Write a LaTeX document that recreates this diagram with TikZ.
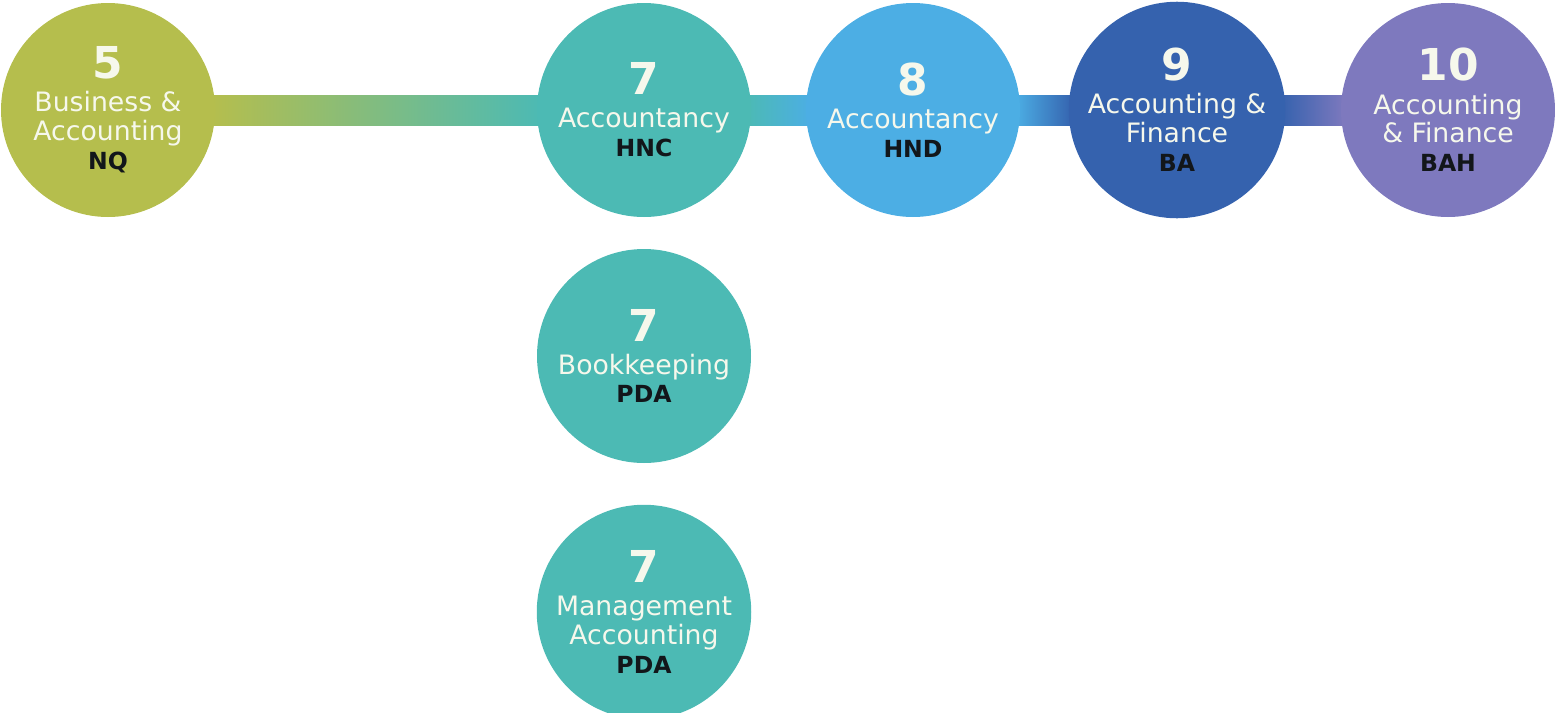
\documentclass[tikz,border=0pt]{standalone}
\usepackage{fontspec}
\setmainfont{DejaVu Sans}
\usetikzlibrary{calc,backgrounds}

\definecolor{lvolive}{RGB}{181,190,77}
\definecolor{lvteal}{RGB}{76,186,180}
\definecolor{lvsky}{RGB}{76,174,228}
\definecolor{lvnavy}{RGB}{53,98,174}
\definecolor{lvlilac}{RGB}{126,121,190}
\definecolor{lvink}{RGB}{18,22,26}
\definecolor{lvpaper}{RGB}{246,248,236}

\newcommand{\lvnum}[1]{{\fontsize{12.5}{8.2}\selectfont\bfseries #1}}
\newcommand{\lvcode}[1]{{\fontsize{6.7}{8.2}\selectfont\bfseries\color{lvink}#1}}

\begin{document}
\begin{tikzpicture}[
  every node/.style={font=\fontsize{7.6}{8.2}\selectfont},
  lvl/.style={circle,minimum size=21.4mm,inner sep=0pt,text=lvpaper,align=center},
  bar/.style={draw=none}]

\useasboundingbox (0,0) rectangle (15.55,7.12);

% ---- main route ----
\node[lvl,fill=lvolive] (nq)  at (1.08,6.02)  {\lvnum{5}\\[1.2pt]Business \&\\Accounting\\\lvcode{NQ}};
\node[lvl,fill=lvteal]  (hnc) at (6.44,6.02)  {\lvnum{7}\\[1.2pt]Accountancy\\\lvcode{HNC}};
\node[lvl,fill=lvsky]   (hnd) at (9.13,6.02)  {\lvnum{8}\\[1.2pt]Accountancy\\\lvcode{HND}};
\node[lvl,fill=lvnavy]  (ba)  at (11.77,6.02) {\lvnum{9}\\[1.2pt]Accounting \&\\Finance\\\lvcode{BA}};
\node[lvl,fill=lvlilac] (bah) at (14.48,6.02) {\lvnum{10}\\[1.2pt]Accounting\\\& Finance\\\lvcode{BAH}};

% ---- other level 7 awards ----
\node[lvl,fill=lvteal] (pdab) at (6.44,3.56) {\lvnum{7}\\[1.2pt]Bookkeeping\\\lvcode{PDA}};
\node[lvl,fill=lvteal] (pdam) at (6.44,1.00) {\lvnum{7}\\[1.2pt]Management\\Accounting\\\lvcode{PDA}};

\begin{scope}[on background layer]
  \foreach \s/\t/\cl/\cr in {nq/hnc/lvolive/lvteal,hnc/hnd/lvteal/lvsky,hnd/ba/lvsky/lvnavy,ba/bah/lvnavy/lvlilac}
    \fill[bar,left color=\cl,right color=\cr] ($(\s.east)+(-0.05,0.15)$) rectangle ($(\t.west)+(0.05,-0.15)$);
\end{scope}
\end{tikzpicture}
\end{document}
